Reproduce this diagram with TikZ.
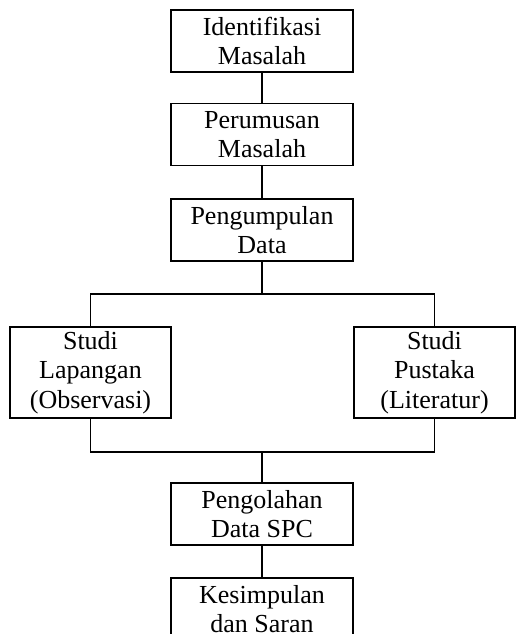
\documentclass[tikz,border=0pt]{standalone}
\usepackage{fontspec}
\setmainfont{Liberation Serif}
\begin{document}
\begin{tikzpicture}[x=1pt,y=-1pt,
  box/.style={draw,line width=1.9pt,inner sep=0pt,align=center,
    font=\fontsize{26}{29.5}\selectfont},
  wide/.style={box,minimum width=182pt,minimum height=62pt},
  side/.style={box,minimum width=161pt,minimum height=91pt},
  conn/.style={line width=1.9pt}]
\useasboundingbox (0,0) rectangle (520,634);
\clip (0,0) rectangle (520,634);
\node[wide] (idm) at (262,41) {Identifikasi\\Masalah};
\node[wide] (per) at (262,134.5) {Perumusan\\Masalah};
\node[wide] (pen) at (262,230) {Pengumpulan\\Data};
\node[side] (stl) at (90.5,372.5) {Studi\\Lapangan\\(Observasi)};
\node[side] (stp) at (434.5,372.5) {Studi\\Pustaka\\(Literatur)};
\node[wide] (peng) at (262,514) {Pengolahan\\Data SPC};
\node[wide] (kes) at (262,609) {Kesimpulan\\dan Saran};
\coordinate (j1) at (262,294);
\coordinate (j2) at (262,452);
\draw[conn] (idm) -- (per);
\draw[conn] (per) -- (pen);
\draw[conn] (pen.south) -- (j1);
\draw[conn] (stl.north) -- (stl.north |- j1) -- (stp.north |- j1) -- (stp.north);
\draw[conn] (stl.south) -- (stl.south |- j2) -- (stp.south |- j2) -- (stp.south);
\draw[conn] (j2) -- (peng.north);
\draw[conn] (peng) -- (kes);
\end{tikzpicture}
\end{document}
